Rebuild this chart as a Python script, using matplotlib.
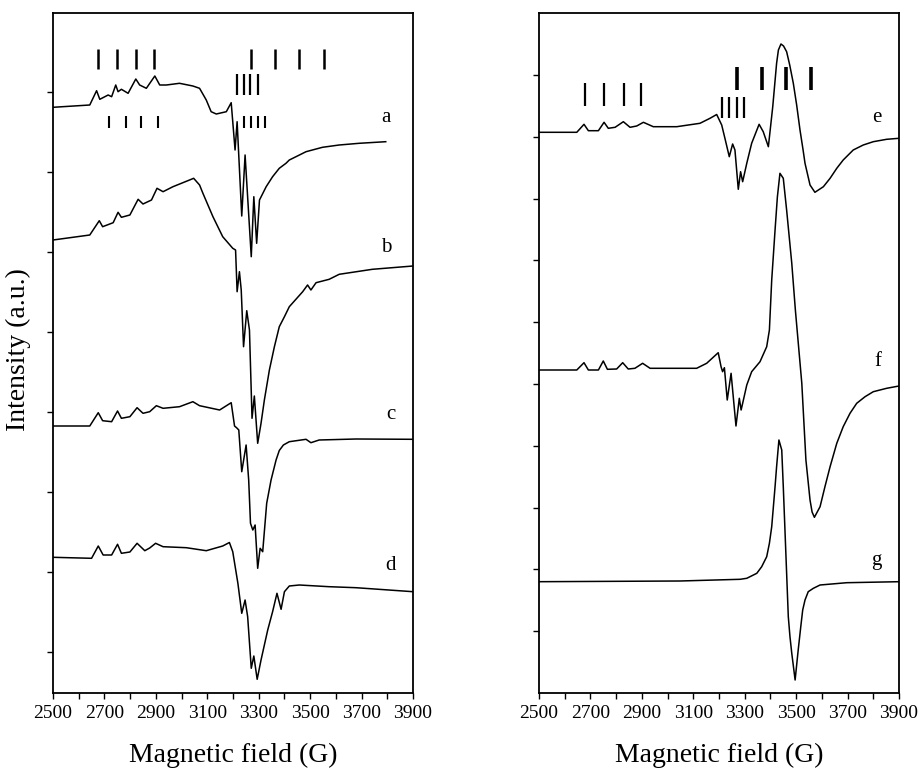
import matplotlib
matplotlib.use("Agg")
import matplotlib.pyplot as plt

plt.rcParams['font.family'] = ['Liberation Serif', 'DejaVu Serif']

# ---------------- data (field in G, intensity in arbitrary units) ----------------
a_field = [2500, 2643, 2669.5, 2682, 2714.5, 2728, 2744, 2753, 2766, 2792, 2822, 2837, 2863, 2896,
           2915, 2941, 2992, 3044, 3070, 3096, 3115, 3135, 3174, 3193, 3208, 3216, 3234, 3247, 3271,
           3281, 3292, 3303, 3329, 3354, 3380, 3406, 3419, 3445, 3484, 3548, 3613, 3690.5, 3794]
a_int = [585.7, 588, 602.3, 593.7, 598, 596.3, 608, 601.3, 603.7, 599.7, 614, 608, 604.7, 617,
         608, 608, 609.7, 607, 604.7, 593, 581.3, 579, 581.3, 590.3, 543, 571.3, 477, 538, 436.3,
         496.3, 449.7, 493, 506.3, 516.3, 524.7, 529.7, 533, 536.3, 541.3, 545.7, 548, 549.7, 551.3]

b_field = [2500, 2643, 2680, 2693, 2734, 2753, 2766, 2799, 2831, 2850, 2883, 2904.5, 2928, 2966.5,
           3005, 3031, 3047, 3070, 3083, 3122, 3160, 3199, 3210, 3216, 3225, 3232, 3241, 3253.5,
           3264, 3274, 3283, 3296, 3309, 3322, 3341.5, 3361, 3380, 3400, 3419, 3471, 3490, 3503,
           3523, 3574, 3613, 3742, 3900]
b_int = [453, 458, 472.3, 466.3, 470.3, 480.7, 475.7, 478, 493.7, 489, 493, 504.7, 501.3, 506.3,
         510.3, 513, 514.7, 508, 499.7, 476.3, 456.3, 444.7, 443, 401.3, 421.3, 403, 346.3, 382.3,
         363, 274.7, 297, 249.7, 269.7, 293, 323, 346.3, 366.3, 376.3, 386.3, 401.3, 408, 403,
         410.3, 413.7, 418.7, 423.7, 427]

c_field = [2500, 2643, 2676, 2693, 2728, 2751, 2766, 2799, 2827, 2850, 2876, 2902, 2928, 2992,
           3044, 3070, 3148, 3193, 3206, 3215, 3222.5, 3234, 3251, 3261, 3268, 3277, 3286, 3296,
           3305.5, 3315.5, 3331, 3348, 3367.5, 3380, 3396, 3419, 3484, 3503, 3535, 3678, 3900]
c_int = [267, 267, 280.3, 272.3, 271.3, 282, 274.7, 276.3, 285.3, 279.7, 281.3, 287.3, 284.7, 286.3,
         291.3, 287.3, 283, 290.3, 267, 265, 263, 221.3, 248, 213, 169.7, 163, 168, 124.7,
         144.7, 141.3, 189.7, 213, 233, 242.5, 248, 251.3, 253.7, 250.3, 253, 254, 253.7]

d_field = [2500, 2650, 2676, 2695, 2728, 2751, 2766, 2799, 2827, 2857, 2876, 2899, 2928, 3018.5,
           3096, 3160, 3186, 3199, 3219, 3234, 3247, 3257, 3271, 3281, 3294, 3309, 3335, 3354,
           3371, 3387, 3400, 3419, 3458, 3574, 3678, 3900]
d_int = [135.7, 134.7, 147, 138, 138, 148.7, 139.7, 141, 149.7, 142.3, 145, 149.7, 146.3, 145.3,
         142.3, 147, 150.5, 141.3, 109.7, 79.7, 93, 76.3, 24.7, 37, 13.7, 33, 63, 81.3,
         99.7, 83.7, 101.3, 107, 108, 106.3, 105.3, 101.3]

e_field = [2500, 2647, 2675, 2692, 2731, 2753, 2769.5, 2796, 2828, 2854, 2880, 2906, 2944.5, 3035.5,
           3126, 3165, 3191, 3210.5, 3223, 3240, 3253, 3262, 3275, 3284, 3292, 3308, 3327, 3356,
           3372, 3392, 3409, 3424, 3431, 3441, 3451, 3463, 3475, 3489, 3502, 3515, 3527, 3534.5,
           3554, 3573, 3606, 3632, 3658, 3683, 3722, 3761, 3800, 3852, 3900]
e_int = [560.7, 560.7, 568.7, 562.3, 562.3, 570.7, 564.7, 565.7, 571.3, 565.7, 567, 570.7, 566.3, 566.3,
         569.7, 574.7, 578.5, 568, 554.7, 536.3, 549, 543, 503.7, 521.3, 511.3, 529.7, 549.7, 568.7,
         561.3, 546.3, 586.3, 629.7, 643, 649, 647, 641.3, 628, 609.7, 588, 563, 543, 529.7,
         508, 500.7, 506.3, 514.7, 524.7, 533, 543, 548, 551.3, 553.7, 554.7]

f_field = [2500, 2647, 2675, 2692, 2731, 2750, 2766, 2802, 2825.5, 2847, 2873, 2903, 2932, 3113,
           3152, 3197, 3208, 3214, 3221, 3232, 3247, 3266, 3279, 3286, 3292, 3308, 3327, 3359.5,
           3385.5, 3396, 3405, 3418, 3427, 3437, 3450, 3463, 3483, 3497, 3522, 3538, 3554, 3562,
           3571, 3593, 3612, 3632, 3658, 3683, 3709.5, 3735.5, 3768, 3800, 3852, 3900]
f_int = [323, 323, 330.3, 323, 323, 332, 323.7, 324, 330.3, 324, 324.7, 329.7, 324.7, 324.7,
         329.7, 340.3, 326.3, 321.3, 325.3, 293, 319.7, 267, 294.7, 283, 289.7, 308, 321.3, 331.3,
         346.3, 363, 413, 463, 496, 519.7, 514.7, 483, 429.7, 383, 309.7, 233, 193, 181,
         175.7, 186.3, 206.3, 226.3, 249.7, 266.3, 279.7, 289.7, 296.3, 301.3, 304.7, 307]

g_field = [2500, 3048, 3282, 3308, 3347, 3366, 3385.5, 3396, 3405, 3418, 3424, 3433, 3444, 3450,
           3457, 3463, 3469.5, 3476, 3483, 3496, 3508, 3518, 3525.5, 3534.5, 3547, 3567, 3593,
           3697, 3900]
g_int = [111.3, 112, 113.7, 114.7, 119.7, 126.3, 136.3, 149.7, 166.3, 206.3, 226.3, 253, 243, 206.3,
         159.7, 119.7, 76.3, 56.3, 39.7, 13, 43, 66.3, 83, 93, 101.3, 104.7, 108,
         110.3, 111.3]

# hyperfine stick markers (field positions)
left_top_low = [2676, 2749, 2822, 2893]
left_top_high = [3271, 3365, 3458, 3555]
left_mid = [3216, 3241, 3267, 3296]
left_low_a = [2717, 2783, 2844, 2908]
left_low_b = [3242, 3271, 3299, 3326]
right_low = [2679, 2754, 2831, 2897]
right_high = [3271, 3366, 3461, 3557]
right_mid = [3213, 3240, 3269, 3298]

labels_left = ['a', 'b', 'c', 'd']
labels_right = ['e', 'f', 'g']

x_ticks = list(range(2500, 3901, 100))
x_ticklabels = [str(v) if (v - 2500) % 200 == 0 else '' for v in x_ticks]

# ---------------- figure ----------------
W, H = 921, 773
fig = plt.figure(figsize=(W / 100, H / 100), dpi=100)
axL = fig.add_axes([53 / W, 1 - 693 / H, 360 / W, 680 / H])
axR = fig.add_axes([539 / W, 1 - 693 / H, 360 / W, 680 / H])

lw = 1.1
for f_, i_ in [(a_field, a_int), (b_field, b_int), (c_field, c_int), (d_field, d_int)]:
    axL.plot(f_, i_, color='black', lw=lw)
for f_, i_ in [(e_field, e_int), (f_field, f_int), (g_field, g_int)]:
    axR.plot(f_, i_, color='black', lw=lw)

# stick markers
axL.vlines(left_top_low, 624, 644, color='black', lw=1.8)
axL.vlines(left_top_high, 624, 644, color='black', lw=1.8)
axL.vlines(left_mid, 598, 619, color='black', lw=1.6)
axL.vlines(left_low_a, 565, 577, color='black', lw=1.5)
axL.vlines(left_low_b, 565, 577, color='black', lw=1.5)
axR.vlines(right_low, 587, 610, color='black', lw=1.6)
axR.vlines(right_high, 603, 626, color='black', lw=2.6)
axR.vlines(right_mid, 575, 596, color='black', lw=1.6)

# curve labels
for lab, (fx, iy) in zip(labels_left, [(3794, 575), (3794, 446), (3813, 278), (3813, 128)]):
    axL.text(fx, iy, lab, fontsize=15, ha='center', va='center')
for lab, (fx, iy) in zip(labels_right, [(3813, 576), (3817, 331), (3813, 133)]):
    axR.text(fx, iy, lab, fontsize=15, ha='center', va='center')

for ax in (axL, axR):
    ax.set_xlim(2500, 3900)
    ax.set_ylim(0, 680)
    ax.set_xticks(x_ticks)
    ax.set_xticklabels(x_ticklabels, fontsize=14)
    ax.tick_params(axis='both', direction='out', length=4, width=1.0, pad=5)
    for s in ax.spines.values():
        s.set_linewidth(1.3)

axL.set_yticks([41 + 80 * k for k in range(8)])
axR.set_yticks([61.8 * k for k in range(1, 11)])
axL.set_yticklabels([])
axR.set_yticklabels([])

fig.text(233 / W, 1 - 755 / H, 'Magnetic field (G)', fontsize=20, ha='center', va='center')
fig.text(719 / W, 1 - 755 / H, 'Magnetic field (G)', fontsize=20, ha='center', va='center')
fig.text(18 / W, 1 - 350 / H, 'Intensity (a.u.)', fontsize=20, ha='center', va='center', rotation=90)

fig.savefig('out.png', dpi=100)
